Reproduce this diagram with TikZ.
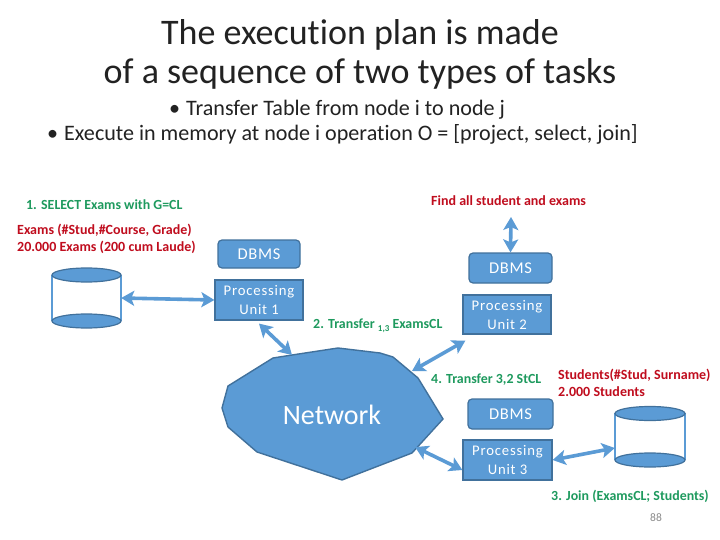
\documentclass[tikz,border=0pt]{standalone}
\usepackage{fontspec}
\setmainfont[Ligatures=NoCommon]{Carlito}
\usetikzlibrary{arrows.meta}
\definecolor{bfill}{HTML}{5B9BD5}
\definecolor{bline}{HTML}{41719C}
\definecolor{gtext}{HTML}{1E9A5E}
\definecolor{rtext}{HTML}{C00D1E}
\definecolor{ink}{HTML}{222222}
\tikzset{
  x=1pt,y=-1pt,
  dbmsbox/.style={draw=bline,line width=1.2pt,fill=bfill,rounded corners=4pt,text=white,inner sep=0pt,font=\fontsize{16.5}{16}\selectfont\addfontfeatures{LetterSpace=4}},
  punit/.style={draw=bline,line width=1.2pt,fill=bfill,text=white,inner sep=0pt,align=center,font=\fontsize{14.7}{19}\selectfont\addfontfeatures{LetterSpace=5.5}},
  titletext/.style={text=ink,font=\fontsize{36}{39}\selectfont,align=center,inner sep=0pt},
  bullettext/.style={text=ink,font=\fontsize{22.1}{24}\selectfont,anchor=west,inner sep=0pt},
  glabel/.style={text=gtext,font=\fontsize{13.9}{16}\selectfont\bfseries,anchor=west,inner sep=0pt},
  rlabel/.style={text=rtext,font=\fontsize{14}{17}\selectfont\bfseries,anchor=west,inner sep=0pt,align=left},
  link/.style={draw=bfill,line width=3.6pt,{Stealth[length=13pt,width=15pt,inset=3pt]}-{Stealth[length=13pt,width=15pt,inset=3pt]},shorten <=0pt,shorten >=0pt},
  cylend/.style={draw=bline,line width=1.2pt,fill=bfill},
  cylside/.style={draw=bfill,line width=1.8pt},
  anchorbox/.style={inner sep=0pt,minimum width=#1,minimum height=60pt},
}
\begin{document}
\begin{tikzpicture}
\useasboundingbox (0,0) rectangle (720,540);
\fill[white] (0,0) rectangle (720,540);
% title
\node[titletext] (title) at (360,54.5) {The execution plan is made\\of a sequence of two types of tasks};
\node[bullettext] (b1) at (169,110) {•\hspace{6pt}Transfer Table from node i to node j};
\node[bullettext] (b2) at (47,134) {•\hspace{6pt}Execute in memory at node i operation O = [project, select, join]};
% labels
\node[glabel] (l1) at (26,204.5) {1. SELECT Exams with G=CL};
\node[rlabel] (r1) at (17,238.5) {Exams (\#Stud,\#Course, Grade)\\20.000 Exams (200 cum Laude)};
\node[rlabel] (r2) at (431,201) {Find all student and exams};
\node[glabel] (l2) at (313,326) {2. Transfer {\fontsize{9}{10}\selectfont\raisebox{-2.5pt}{1,3}} ExamsCL};
\node[glabel] (l4) at (431,379.5) {4. Transfer 3,2 StCL};
\node[rlabel] (r3) at (558,383) {Students(\#Stud, Surname)\\2.000 Students};
\node[glabel] (l3) at (551,496) {3. Join (ExamsCL; Students)};
\node[text=black!45,font=\fontsize{11.5}{12}\selectfont,inner sep=0pt] (pg) at (656,518) {88};
% boxes
\node[dbmsbox,minimum width=82pt,minimum height=28pt] (d1) at (259,254) {DBMS\hspace*{0pt}};
\node[punit,minimum width=88pt,minimum height=40pt] (p1) at (259,300) {Processing\\Unit 1};
\node[dbmsbox,minimum width=83pt,minimum height=30pt] (d2) at (510.5,268) {DBMS};
\node[punit,minimum width=88pt,minimum height=39pt] (p2) at (507,314.5) {Processing\\Unit 2};
\node[dbmsbox,minimum width=85pt,minimum height=30pt] (d3) at (510.5,414) {DBMS};
\node[punit,minimum width=89pt,minimum height=40pt] (p3) at (507.5,460) {Processing\\Unit 3};
% network
\draw[fill=bfill,draw=bline,line width=1.4pt]
  (292,355) coordinate (n1) -- (338,348) -- (380,353) -- (393,357) -- (418,378) -- (443,419) -- (412,453) -- (342,480) -- (257,452) -- (228,427) -- (222,408) -- (228,386) -- (273,358) -- cycle;
\node[text=white,font=\fontsize{28}{30}\selectfont,inner sep=0pt] (net) at (332,415) {Network};
\coordinate (n2) at (412,371);
\coordinate (n3) at (415,447);
% cylinders
\node[anchorbox=69pt] (c1) at (86.5,298) {};
\draw[cylside] (c1.west |- 0,275) -- (c1.west |- 0,321) (c1.east |- 0,275) -- (c1.east |- 0,321);
\draw[cylend] (86.5,275) ellipse [x radius=34.5pt,y radius=7pt];
\draw[cylend] (86.5,321) ellipse [x radius=34.5pt,y radius=7pt];
\node[anchorbox=70pt] (c2) at (650,436) {};
\draw[cylside] (c2.west |- 0,413) -- (c2.west |- 0,460) (c2.east |- 0,413) -- (c2.east |- 0,460);
\draw[cylend] (650,413.5) ellipse [x radius=35pt,y radius=7pt];
\draw[cylend] (650,460) ellipse [x radius=35pt,y radius=7pt];
% connectors
\coordinate (findtip) at (511,217);
\draw[link] (c1.east) -- (p1.west);
\draw[link] ([yshift=-3pt]p1.south) -- (n1);
\draw[link] (n2) -- ([xshift=3pt,yshift=-6pt]p2.south west);
\draw[link] (n3) -- ([yshift=-10pt]p3.west);
\draw[link] (p3.east) -- ([yshift=-12pt]c2.west);
\draw[link] (findtip) -- (d2.north);
\end{tikzpicture}
\end{document}
